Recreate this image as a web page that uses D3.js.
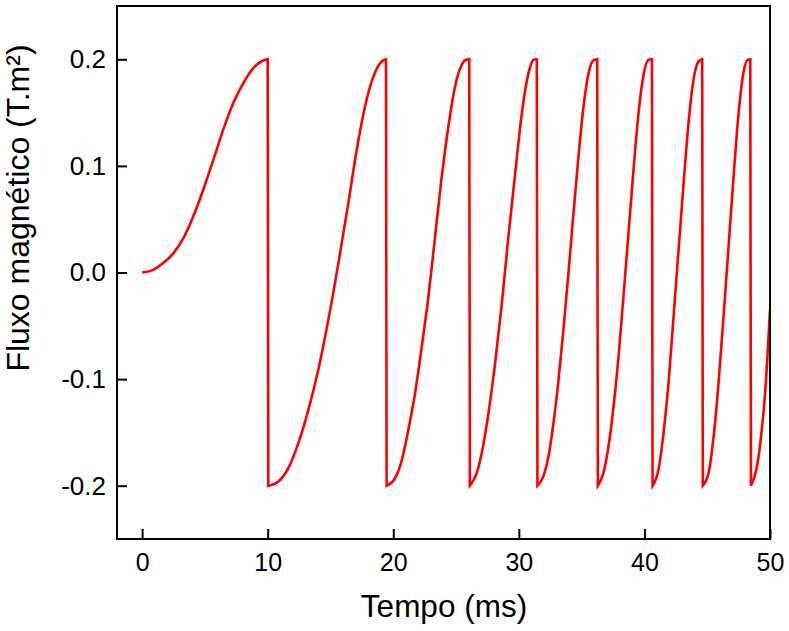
<!DOCTYPE html>
<html>
<head>
<meta charset="utf-8">
<script src="https://cdn.jsdelivr.net/npm/d3@7"></script>
<style>
  html, body { margin: 0; padding: 0; background: #fff; }
  svg { display: block; }
  text { font-family: "Liberation Sans", Arial, Helvetica, sans-serif; fill: #000; }
</style>
</head>
<body>
<svg id="chart" width="789" height="631"></svg>
<script>
// ---- data ----
const time = [
  0, 0.89, 1.68, 2.48, 3.28, 4.07, 4.87, 5.67, 6.46, 7.26, 8.06, 8.85, 9.65, 10.0,
  10.05, 10.85, 11.64, 12.44, 13.24, 14.03, 14.83, 15.63, 16.42, 17.09, 17.75, 18.42, 19.08, 19.42,
  19.47, 20.14, 20.68, 21.2, 21.74, 22.27, 22.8, 23.33, 23.86, 24.39, 24.92, 25.46, 25.8, 26.05,
  26.1, 26.65, 27.05, 27.58, 28.11, 28.65, 29.17, 29.71, 30.24, 30.77, 31.16, 31.43,
  31.48, 31.96, 32.36, 32.76, 33.16, 33.55, 33.95, 34.35, 34.75, 35.15, 35.55, 35.94, 36.24,
  36.29, 36.74, 37.14, 37.54, 37.94, 38.33, 38.73, 39.13, 39.53, 39.93, 40.33, 40.6,
  40.65, 41.12, 41.52, 41.92, 42.32, 42.72, 43.12, 43.51, 43.91, 44.31, 44.6,
  44.65, 45.11, 45.51, 45.9, 46.3, 46.7, 47.1, 47.5, 47.9, 48.22, 48.43,
  48.48, 48.91, 49.23, 49.63, 50.0
];
const flux = [
  0, 0.0025, 0.0088, 0.018, 0.032, 0.0525, 0.0776, 0.1057, 0.134, 0.159, 0.1777, 0.1917, 0.1989, 0.2,
  -0.2, -0.196, -0.1835, -0.160, -0.1288, -0.0913, -0.0444, 0.0088, 0.0651, 0.115, 0.1557, 0.184, 0.198, 0.2,
  -0.2, -0.193, -0.176, -0.1476, -0.113, -0.0694, -0.0225, 0.0338, 0.090, 0.137, 0.1745, 0.195, 0.1995, 0.2,
  -0.2, -0.188, -0.169, -0.132, -0.085, -0.0287, 0.0338, 0.0932, 0.1495, 0.187, 0.1995, 0.2,
  -0.2, -0.191, -0.1726, -0.141, -0.1007, -0.0538, -0.0006, 0.0557, 0.1088, 0.1557, 0.187, 0.199, 0.2,
  -0.2, -0.188, -0.163, -0.1257, -0.0788, -0.0225, 0.037, 0.0963, 0.1495, 0.1855, 0.1995, 0.2,
  -0.2, -0.185, -0.1507, -0.1038, -0.0413, 0.0213, 0.0839, 0.140, 0.181, 0.198, 0.2,
  -0.2, -0.188, -0.154, -0.104, -0.0413, 0.0244, 0.090, 0.1495, 0.1886, 0.1995, 0.2,
  -0.2, -0.185, -0.16, -0.110, -0.035
];
const xTicks = [0, 10, 20, 30, 40, 50];
const yTicks = [-0.2, -0.1, 0.0, 0.1, 0.2];
const xTitle = "Tempo (ms)";
const yTitle = "Fluxo magnético (T.m²)";

// ---- layout ----
const W = 789, H = 631;
const margin = { left: 117, right: 19, top: 6, bottom: 92 };
const svg = d3.select("#chart");

const x = d3.scaleLinear().domain([-2, 50]).range([margin.left, W - margin.right]);
const y = d3.scaleLinear().domain([-0.25, 0.25]).range([H - margin.bottom, margin.top]);

// ---- curve: split into rising segments at the vertical drops ----
const pts = time.map((t, i) => ({ t, f: flux[i] }));
const segments = [];
let cur = [pts[0]];
for (let i = 1; i < pts.length; i++) {
  if (pts[i].f < pts[i - 1].f - 0.2) { segments.push(cur); cur = []; }
  cur.push(pts[i]);
}
segments.push(cur);

const line = d3.line().x(d => x(d.t)).y(d => y(d.f)).curve(d3.curveMonotoneX);
let dStr = segments.map(s => line(s)).join("");
dStr = "M" + dStr.slice(1).replace(/M/g, "L");

svg.append("defs").append("clipPath").attr("id", "clip")
  .append("rect")
  .attr("x", margin.left).attr("y", margin.top)
  .attr("width", W - margin.left - margin.right)
  .attr("height", H - margin.top - margin.bottom);

svg.append("path")
  .attr("d", dStr)
  .attr("clip-path", "url(#clip)")
  .attr("fill", "none")
  .attr("stroke", "#ff0000")
  .attr("stroke-width", 2.6)
  .attr("stroke-linejoin", "miter");

// ---- axes (ticks pointing inward) ----
const xAxis = d3.axisBottom(x).tickValues(xTicks).tickSizeInner(-10).tickSizeOuter(0).tickPadding(14)
  .tickFormat(d3.format("d"));
const gx = svg.append("g").attr("transform", `translate(0,${H - margin.bottom})`).call(xAxis);
gx.select(".domain").remove();
gx.selectAll(".tick line").attr("stroke", "#000").attr("stroke-width", 2);
gx.selectAll(".tick text").attr("font-size", 25).attr("dy", "0.7em")
  .style("font-family", "'Liberation Sans', Arial, sans-serif");

const yAxis = d3.axisLeft(y).tickValues(yTicks).tickSizeInner(-10).tickSizeOuter(0).tickPadding(11)
  .tickFormat(d3.format(".1f"));
const gy = svg.append("g").attr("transform", `translate(${margin.left},0)`).call(yAxis);
gy.select(".domain").remove();
gy.selectAll(".tick line").attr("stroke", "#000").attr("stroke-width", 2);
gy.selectAll(".tick text").attr("font-size", 26)
  .style("font-family", "'Liberation Sans', Arial, sans-serif")
  .text(d => d3.format(".1f")(d).replace("−", "-"));

// ---- frame ----
svg.append("rect")
  .attr("x", margin.left).attr("y", margin.top)
  .attr("width", W - margin.left - margin.right)
  .attr("height", H - margin.top - margin.bottom)
  .attr("fill", "none").attr("stroke", "#000").attr("stroke-width", 2);

// ---- titles ----
svg.append("text")
  .attr("x", 444)
  .attr("y", 617)
  .attr("text-anchor", "middle")
  .attr("font-size", 31.5)
  .text(xTitle);

svg.append("text")
  .attr("transform", "translate(29,208) rotate(-90)")
  .attr("text-anchor", "middle")
  .attr("font-size", 32)
  .text(yTitle);
</script>
</body>
</html>
